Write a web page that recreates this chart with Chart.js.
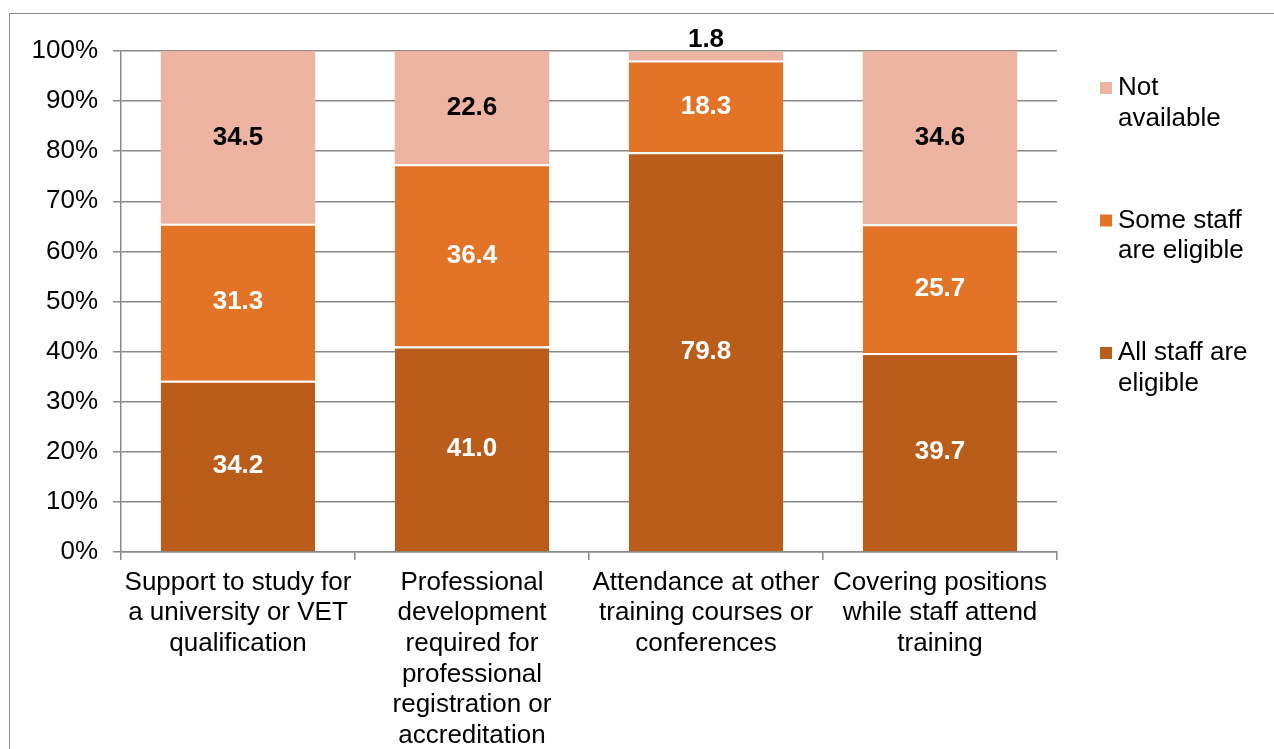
<!DOCTYPE html>
<html>
<head>
<meta charset="utf-8">
<script src="https://cdn.jsdelivr.net/npm/chart.js@4.4.1/dist/chart.umd.min.js"></script>
<style>
  html, body { margin: 0; padding: 0; background: #fff; overflow: hidden; }
  #wrap { position: relative; width: 1274px; height: 749px; }
  #frame { position: absolute; left: 9px; top: 13px; width: 1300px; height: 800px; border: 1px solid #898989; }
  canvas { position: absolute; left: 0; top: 0; }
</style>
</head>
<body>
<div id="wrap">
  <div id="frame"></div>
  <canvas id="chart" width="1274" height="749"></canvas>
</div>
<script>
const categories = [
  ['Support to study for', 'a university or VET', 'qualification'],
  ['Professional', 'development', 'required for', 'professional', 'registration or', 'accreditation'],
  ['Attendance at other', 'training courses or', 'conferences'],
  ['Covering positions', 'while staff attend', 'training']
];
const allStaff = [34.2, 41.0, 79.8, 39.7];
const someStaff = [31.3, 36.4, 18.3, 25.7];
const notAvailable = [34.5, 22.6, 1.8, 34.6];
const yTicks = [0, 10, 20, 30, 40, 50, 60, 70, 80, 90, 100];

const FONT = '"Liberation Sans", Arial, sans-serif';
const GRID = '#898989';

// value labels in the middle of each segment, small ones above the bar
const valueLabels = {
  id: 'valueLabels',
  afterDatasetsDraw(chart) {
    const ctx = chart.ctx;
    ctx.save();
    ctx.font = 'bold 26px ' + FONT;
    ctx.textAlign = 'center';
    ctx.textBaseline = 'middle';
    chart.data.datasets.forEach((ds, i) => {
      const meta = chart.getDatasetMeta(i);
      meta.data.forEach((bar, j) => {
        const v = ds.data[j];
        const top = Math.min(bar.y, bar.base);
        const h = Math.abs(bar.base - bar.y);
        ctx.fillStyle = ds.labelColor;
        let y = top + h / 2;
        if (h < 24) y = top - 12;
        ctx.fillText(v.toFixed(1), bar.x, y);
      });
    });
    ctx.restore();
  }
};

// legend on the right with wrapped text
const sideLegend = {
  id: 'sideLegend',
  afterDraw(chart) {
    const ctx = chart.ctx;
    const area = chart.chartArea;
    ctx.save();
    ctx.font = '26px ' + FONT;
    ctx.textBaseline = 'middle';
    ctx.textAlign = 'left';
    const items = chart.data.datasets.slice().reverse();
    const x = area.right + 43;
    let y = area.top + 37;
    items.forEach((ds) => {
      ctx.fillStyle = ds.backgroundColor;
      ctx.fillRect(x, y - 6, 12, 12);
      ctx.fillStyle = '#000';
      ds.legendLines.forEach((line, k) => {
        ctx.fillText(line, x + 18, y + k * 30.5);
      });
      y += 132.5;
    });
    ctx.restore();
  }
};

new Chart(document.getElementById('chart'), {
  type: 'bar',
  data: {
    labels: categories,
    datasets: [
      {
        label: 'All staff are eligible',
        legendLines: ['All staff are', 'eligible'],
        data: allStaff,
        backgroundColor: '#BA5C1A',
        labelColor: '#fff',
        borderColor: '#fff',
        borderWidth: { top: 2, left: 0, right: 0, bottom: 0 },
        borderSkipped: false
      },
      {
        label: 'Some staff are eligible',
        legendLines: ['Some staff', 'are eligible'],
        data: someStaff,
        backgroundColor: '#E37326',
        labelColor: '#fff',
        borderColor: '#fff',
        borderWidth: { top: 2, left: 0, right: 0, bottom: 0 },
        borderSkipped: false
      },
      {
        label: 'Not available',
        legendLines: ['Not', 'available'],
        data: notAvailable,
        backgroundColor: '#EEB4A2',
        labelColor: '#000',
        borderWidth: 0
      }
    ]
  },
  options: {
    responsive: false,
    animation: false,
    layout: { padding: { top: 51, right: 217, left: 0, bottom: 0 } },
    datasets: { bar: { barPercentage: 0.66, categoryPercentage: 1 } },
    plugins: {
      legend: { display: false },
      tooltip: { enabled: false }
    },
    scales: {
      x: {
        stacked: true,
        afterFit(scale) { scale.height = 749 - 552; },
        grid: { offset: true, drawOnChartArea: false, drawTicks: true, tickLength: 8, color: GRID, lineWidth: 1.5 },
        border: { color: GRID, width: 1.5 },
        ticks: {
          color: '#000',
          font: { family: FONT, size: 26, lineHeight: 1.18 },
          padding: 7,
          autoSkip: false,
          maxRotation: 0
        }
      },
      y: {
        stacked: true,
        min: 0,
        max: 100,
        afterFit(scale) { scale.width = 121; },
        afterBuildTicks(scale) { scale.ticks = yTicks.map(v => ({ value: v })); },
        grid: { color: GRID, lineWidth: 1.5, tickLength: 8 },
        border: { color: GRID, width: 1.5 },
        ticks: {
          color: '#000',
          font: { family: FONT, size: 26 },
          padding: 15,
          callback: (v) => v + '%'
        }
      }
    }
  },
  plugins: [valueLabels, sideLegend]
});
</script>
</body>
</html>
